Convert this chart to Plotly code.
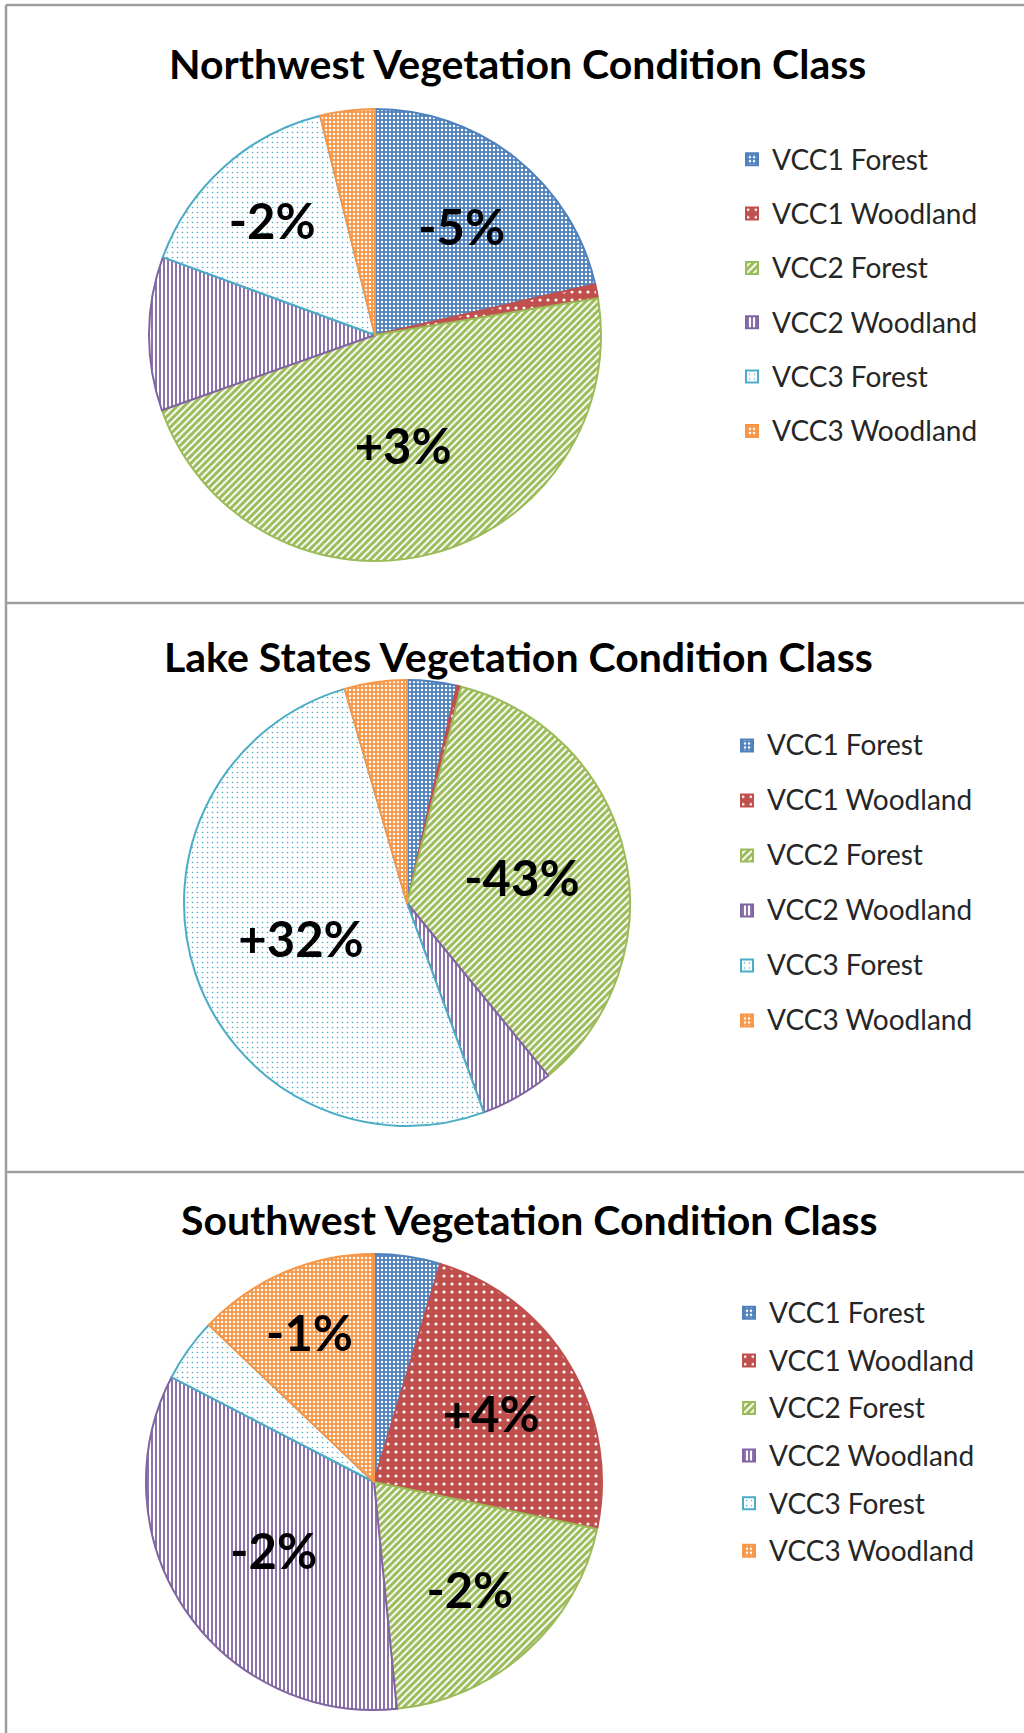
import plotly.graph_objects as go

W, H = 1024, 1733

categories = ["VCC1 Forest", "VCC1 Woodland", "VCC2 Forest", "VCC2 Woodland", "VCC3 Forest", "VCC3 Woodland"]

regions = ["Northwest", "Lake States", "Southwest"]
titles = ["Northwest Vegetation Condition Class",
          "Lake States Vegetation Condition Class",
          "Southwest Vegetation Condition Class"]

# share of area (%) per class
nw_values = [21.4, 1.0, 47.2, 11.0, 15.5, 3.9]
ls_values = [3.6, 0.3, 35.2, 5.3, 51.1, 4.5]
sw_values = [4.7, 23.6, 20.1, 34.2, 4.5, 12.9]

# change labels printed on slices
nw_change = ["-5%", "", "+3%", "", "-2%", ""]
ls_change = ["", "", "-43%", "", "+32%", ""]
sw_change = ["", "+4%", "-2%", "-2%", "", "-1%"]

colors = ["#4F81BD", "#C0504D", "#9BBB59", "#8064A2", "#4BACC6", "#F79646"]
pat_shape = [".", ".", "/", "|", ".", "."]
pat_bg = ["#4F81BD", "#C0504D", "#9BBB59", "#8064A2", "#FFFFFF", "#F79646"]
pat_fg = ["#FFFFFF", "#FFFFFF", "#FFFFFF", "#FFFFFF", "#4BACC6", "#FFFFFF"]
pat_size = [4, 8, 5, 4, 5, 4]
pat_solid = [0.3, 0.12, 0.4, 0.55, 0.08, 0.3]

FONT = "Lato"

# layout geometry in pixels: pie centre (x, y), radius; legend left/top, legend font size
panels = [
    dict(vals=nw_values, txt=nw_change, cx=375, cy=335, r=226, lx=732, ly=127, lfs=39.5, shift=5.4, tx=517, ty=64),
    dict(vals=ls_values, txt=ls_change, cx=407, cy=903, r=223, lx=727, ly=713, lfs=40, shift=5.6, tx=518, ty=656),
    dict(vals=sw_values, txt=sw_change, cx=374, cy=1482, r=228, lx=729, ly=1284, lfs=34.3, shift=3.4, tx=529, ty=1219),
]

fig = go.Figure()
legend_layouts = {}
for i, p in enumerate(panels):
    lname = "legend" if i == 0 else f"legend{i+1}"
    lab = [f'<span style="font-size:28px;baseline-shift:{p["shift"]}px">{c}</span>' for c in categories]
    fig.add_trace(go.Pie(
        labels=lab,
        values=p["vals"],
        text=p["txt"],
        textinfo="text",
        textposition="inside",
        insidetextorientation="horizontal",
        insidetextfont=dict(family=FONT, size=49, color="black", weight="bold"),
        sort=False,
        direction="clockwise",
        rotation=0,
        marker=dict(
            colors=colors,
            line=dict(color=colors, width=2),
            pattern=dict(shape=pat_shape, bgcolor=pat_bg, fgcolor=pat_fg,
                         size=pat_size, solidity=pat_solid, fillmode="replace"),
        ),
        domain=dict(x=[(p["cx"] - p["r"]) / W, (p["cx"] + p["r"]) / W],
                    y=[1 - (p["cy"] + p["r"]) / H, 1 - (p["cy"] - p["r"]) / H]),
        legend=lname,
        hoverinfo="skip",
        showlegend=True,
    ))
    legend_layouts[lname] = dict(
        x=p["lx"] / W, y=1 - p["ly"] / H, xanchor="left", yanchor="top",
        font=dict(family=FONT, size=p["lfs"], color="#262626"),
        bgcolor="rgba(0,0,0,0)", borderwidth=0, orientation="v",
    )
    fig.add_annotation(
        x=p["tx"] / W, y=1 - p["ty"] / H, xref="paper", yref="paper",
        text=titles[i], showarrow=False, xanchor="center", yanchor="middle",
        font=dict(family=FONT, size=41, color="black", weight="bold"),
    )

# panel frames
line_col = "#9E9E9E"
fig.add_shape(type="line", xref="paper", yref="paper", x0=6 / W, x1=6 / W, y0=0, y1=1 - 5 / H,
              line=dict(color=line_col, width=2.5))
for yy in [5, 603, 1172]:
    fig.add_shape(type="line", xref="paper", yref="paper", x0=6 / W, x1=1, y0=1 - yy / H, y1=1 - yy / H,
                  line=dict(color=line_col, width=2.5))

fig.update_layout(
    width=W, height=H,
    margin=dict(l=0, r=0, t=0, b=0),
    paper_bgcolor="white", plot_bgcolor="white",
    font=dict(family=FONT),
    **legend_layouts,
)

fig.write_html("out.html",
               config={"displayModeBar": False},
               post_script="document.body.style.margin='0';document.body.style.overflow='hidden';")
